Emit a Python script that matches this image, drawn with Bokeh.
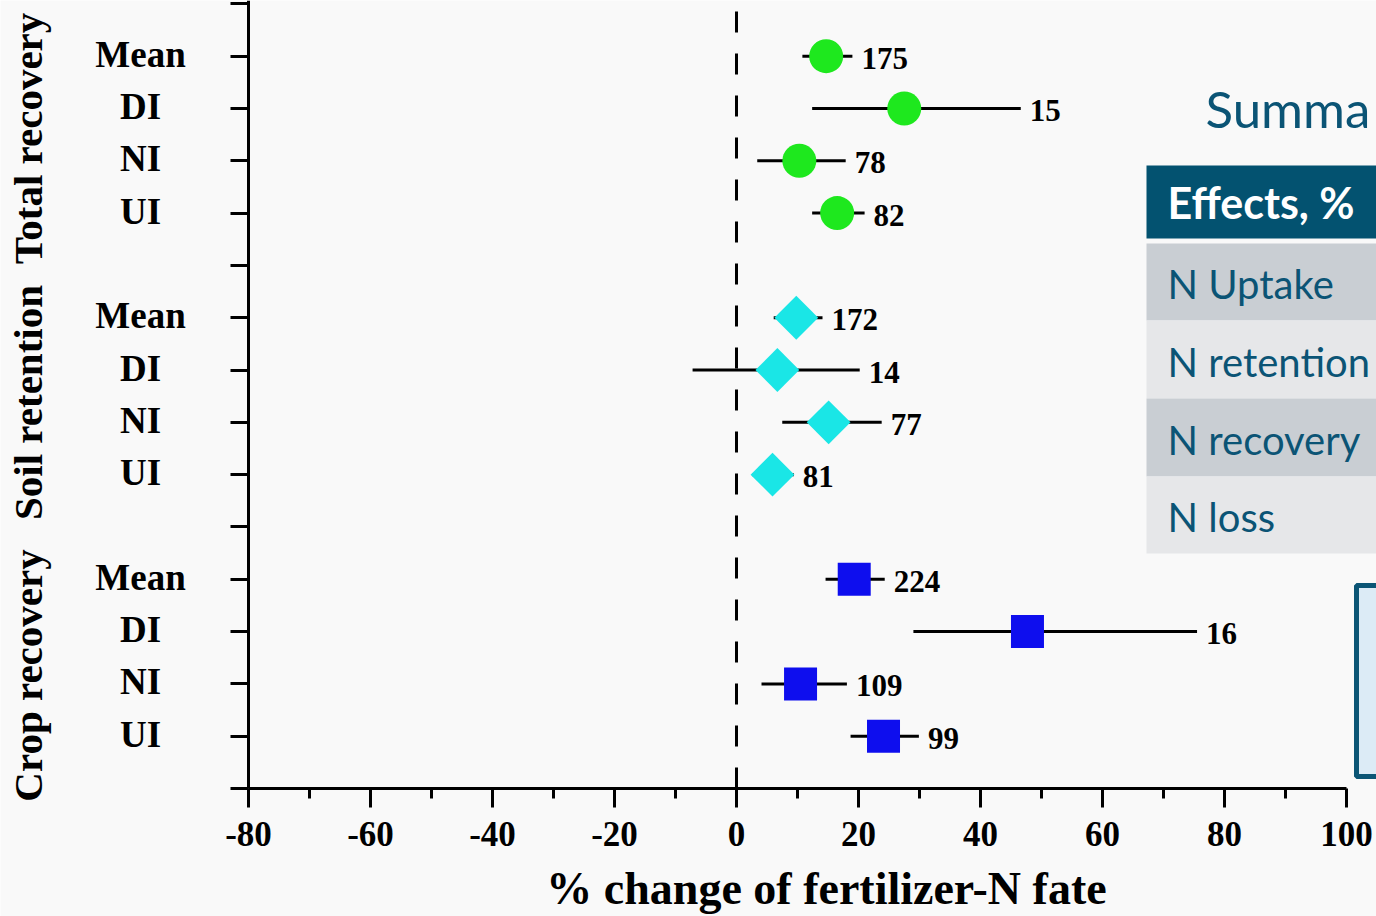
import math
from bokeh.plotting import figure
from bokeh.models import Range1d, FixedTicker, LinearAxis, ColumnDataSource
from bokeh.core.properties import value
from bokeh.embed import file_html
from bokeh.resources import INLINE

# ---------------- data ----------------
groups = ["Total recovery", "Soil retention", "Crop recovery"]
categories = ["Mean", "DI", "NI", "UI"]

total_mean = [14.7, 27.5, 10.3, 16.5]
total_lo = [10.8, 12.4, 3.4, 12.4]
total_hi = [19.0, 46.6, 17.9, 21.0]
total_n = [175, 15, 78, 82]

soil_mean = [9.8, 6.7, 15.1, 5.9]
soil_lo = [6.1, -7.2, 7.5, 2.6]
soil_hi = [14.1, 20.2, 23.8, 9.4]
soil_n = [172, 14, 77, 81]

crop_mean = [19.3, 47.7, 10.5, 24.1]
crop_lo = [14.6, 29.0, 4.1, 18.7]
crop_hi = [24.3, 75.5, 18.1, 29.9]
crop_n = [224, 16, 109, 99]

x_ticks = [-80, -60, -40, -20, 0, 20, 40, 60, 80, 100]
x_minor = [-70, -50, -30, -10, 10, 30, 50, 70, 90]
x_title = "% change of fertilizer-N fate"

table_title = "Summa"
table_header = "Effects, %"
table_rows = ["N Uptake", "N retention", "N recovery", "N loss"]

# ---------------- layout ----------------
W, H = 1376, 916
AX_L, AX_B = 248, 788          # pixel position of the axes' origin (x=-80, y=0)
PX_PER_X = 6.1
PX_PER_Y = 52.31
X_MIN_AXIS, X_MAX_AXIS = -80, 100

def px_to_x(px):
    return X_MIN_AXIS + (px - AX_L) / PX_PER_X

def py_to_y(py):
    return (AX_B - py) / PX_PER_Y

Y_TOP = py_to_y(0)

BG = "#F9F9F9"
SERIF = "Liberation Serif"
SANS = "Lato"
GREEN = "#1EE81E"
CYAN = "#1AE6E6"
BLUE = "#0E0EEE"
TEAL = "#035270"
TEAL_TXT = "#0B5475"

p = figure(width=W, height=H,
           x_range=Range1d(px_to_x(0), px_to_x(W)), y_range=Range1d(py_to_y(H), Y_TOP),
           output_backend="svg", toolbar_location=None,
           x_axis_location=None, y_axis_location=None,
           min_border_left=0, min_border_right=0, min_border_top=0, min_border_bottom=0,
           background_fill_color=BG, border_fill_color=BG, outline_line_color=None)
p.grid.visible = False

# x axis
xa = LinearAxis(fixed_location=0)
xa.ticker = FixedTicker(ticks=x_ticks, minor_ticks=x_minor)
xa.major_label_overrides = {t: str(t) for t in x_ticks}
xa.bounds = (X_MIN_AXIS, X_MAX_AXIS)
xa.axis_line_width = 3
xa.major_tick_line_width = 3
xa.minor_tick_line_width = 3
xa.major_tick_out = 19
xa.major_tick_in = 0
xa.minor_tick_out = 10
xa.minor_tick_in = 0
xa.major_label_text_font = SERIF
xa.major_label_text_font_style = "bold"
xa.major_label_text_font_size = "35px"
xa.major_label_text_color = "black"
xa.major_label_standoff = 14
p.add_layout(xa, "below")

# x axis title (centred as in the original figure)
p.text(x=[px_to_x(826)], y=[py_to_y(888)], text=[x_title], text_align="center",
       text_baseline="middle", text_font=value(SERIF), text_font_style="bold",
       text_font_size="46px", text_color="black")

# y axis
ya = LinearAxis(fixed_location=X_MIN_AXIS)
ya.ticker = FixedTicker(ticks=list(range(16)), minor_ticks=[])
ya.major_label_overrides = {i: "" for i in range(16)}
ya.bounds = (0, Y_TOP)
ya.axis_line_width = 3
ya.major_tick_line_width = 3
ya.major_tick_out = 18
ya.major_tick_in = 0
ya.minor_tick_line_color = None
p.add_layout(ya, "left")

# zero dashed line
p.segment(x0=[0], y0=[Y_TOP], x1=[0], y1=[0], line_color="black", line_width=3,
          line_dash="21 21", line_dash_offset=31)

series = [
    (total_mean, total_lo, total_hi, total_n, GREEN, "circle", 34, 0.0),
    (soil_mean, soil_lo, soil_hi, soil_n, CYAN, "square", 31, math.pi / 4),
    (crop_mean, crop_lo, crop_hi, crop_n, BLUE, "square", 33, 0.0),
]

cat_y = []
cat_txt = []
for g, (mean, lo, hi, n, col, mk, sz, ang) in enumerate(series):
    ys = [14 - g * 5 - i for i in range(len(categories))]
    src = ColumnDataSource(dict(y=ys, mean=mean, lo=lo, hi=hi, n=[str(v) for v in n]))
    p.segment(x0="lo", y0="y", x1="hi", y1="y", source=src, line_color="black", line_width=3)
    p.scatter(x="mean", y="y", source=src, marker=mk, size=sz, angle=ang,
              fill_color=col, line_color=None)
    p.text(x="hi", y="y", text="n", source=src, x_offset=9, y_offset=2,
           text_font=value(SERIF), text_font_style="bold", text_font_size="31px",
           text_color="black", text_align="left", text_baseline="middle")
    cat_y += ys
    cat_txt += categories

# category labels (left of axis, centred)
p.text(x=[px_to_x(140)] * len(cat_y), y=cat_y, text=cat_txt, text_align="center",
       text_baseline="middle", y_offset=-2, text_font=value(SERIF), text_font_style="bold",
       text_font_size="37px", text_color="black")

# group labels (vertical)
group_label_py = [138, 402, 675]
p.text(x=[px_to_x(27)] * 3, y=[py_to_y(v) for v in group_label_py], text=groups,
       angle=math.pi / 2, text_align="center", text_baseline="middle",
       text_font=value(SERIF), text_font_style="bold", text_font_size="41px",
       text_color="black")

# ---------------- summary table (partly cut off) ----------------
TBL_L = 1146
X_RIGHT = px_to_x(W + 10)
p.text(x=[px_to_x(1205)], y=[py_to_y(108)], text=[table_title], text_font=value(SANS),
       text_font_size="51px", text_color=TEAL_TXT, text_align="left", text_baseline="middle")
p.quad(left=[px_to_x(TBL_L)], right=[X_RIGHT], top=[py_to_y(165)], bottom=[py_to_y(238)],
       fill_color=TEAL, line_color=None)
p.text(x=[px_to_x(1167)], y=[py_to_y(202)], text=[table_header], text_font=value(SANS),
       text_font_style="bold", text_font_size="43px", text_color="white",
       text_align="left", text_baseline="middle")
row_tops = [243, 320, 398, 476]
row_bots = [320, 398, 476, 553]
row_fill = ["#C9CED3", "#E6E7E9", "#C9CED3", "#E6E7E9"]
p.quad(left=[px_to_x(TBL_L)] * 4, right=[X_RIGHT] * 4,
       top=[py_to_y(v) for v in row_tops], bottom=[py_to_y(v) for v in row_bots],
       fill_color=row_fill, line_color=None)
row_mid = [283, 361, 439, 516]
p.text(x=[px_to_x(1167)] * 4, y=[py_to_y(v) for v in row_mid], text=table_rows,
       text_font=value(SANS), text_font_size="40px", text_color=TEAL_TXT,
       text_align="left", text_baseline="middle")

# blue callout box, cut at right edge
p.quad(left=[px_to_x(1356)], right=[X_RIGHT], top=[py_to_y(585)], bottom=[py_to_y(776)],
       fill_color="#DCEBF6", line_color="#0B5575", line_width=5)

open("out.html", "w").write(file_html(p, INLINE))
